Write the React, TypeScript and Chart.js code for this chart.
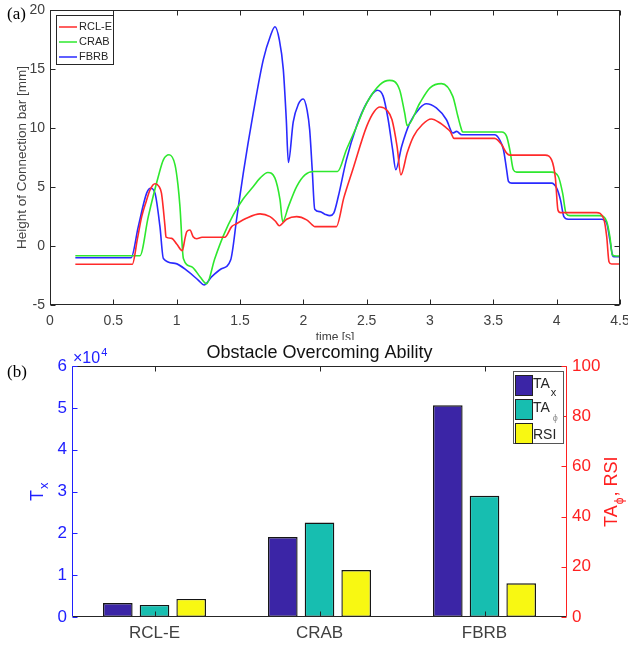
import React, { useEffect, useRef } from 'react';
import { Chart, registerables } from 'chart.js';

Chart.register(...registerables);

const SANS = '"Liberation Sans", Arial, sans-serif';
const SERIF = '"Liberation Serif", "Times New Roman", serif';

// ---------- panel (a): height of connection bar ----------
const seriesNames = ['RCL-E', 'CRAB', 'FBRB'];
const lineColors = ['#ff2a2a', '#2ee82e', '#2a2aff'];

const rclTime = [0.2, 0.65, 0.69, 0.724, 0.76, 0.79, 0.829, 0.86, 0.88, 0.895, 0.908, 0.916, 0.96, 1.0, 1.045, 1.065, 1.08, 1.105, 1.13, 1.158, 1.2, 1.38, 1.434, 1.47, 1.55, 1.658, 1.737, 1.78, 1.81, 1.868, 1.947, 2.026, 2.07, 2.09, 2.26, 2.32, 2.39, 2.5, 2.56, 2.605, 2.66, 2.7, 2.74, 2.77, 2.82, 2.87, 2.94, 3.01, 3.08, 3.13, 3.16, 3.19, 3.51, 3.566, 3.605, 3.63, 3.91, 3.96, 3.99, 4.01, 4.03, 4.316, 4.37, 4.395, 4.413, 4.434, 4.5];
const rclHeight = [-1.55, -1.55, 0.6, 2.49, 3.8, 4.76, 5.27, 5.05, 4.48, 3.1, 1.64, 0.75, 0.65, 0.17, -0.4, 0.6, 1.22, 1.36, 0.79, 0.62, 0.74, 0.74, 1.64, 1.87, 2.35, 2.72, 2.49, 2.1, 1.72, 2.27, 2.49, 2.21, 1.8, 1.64, 1.64, 4.1, 6.46, 10.14, 11.4, 11.78, 11.5, 10.7, 8.44, 6.03, 7.9, 9.29, 10.3, 10.76, 10.42, 10.0, 9.71, 9.12, 9.12, 8.58, 7.87, 7.7, 7.7, 7.3, 5.75, 3.06, 2.83, 2.83, 2.35, 0.79, -1.33, -1.53, -1.53];

const crabTime = [0.2, 0.71, 0.776, 0.855, 0.895, 0.94, 0.987, 1.01, 1.026, 1.053, 1.118, 1.184, 1.237, 1.3, 1.37, 1.45, 1.526, 1.605, 1.658, 1.72, 1.776, 1.816, 1.837, 1.882, 1.947, 2.013, 2.08, 2.27, 2.34, 2.41, 2.5, 2.605, 2.68, 2.76, 2.8, 2.82, 2.92, 3.0, 3.09, 3.18, 3.22, 3.245, 3.258, 3.566, 3.605, 3.63, 3.658, 3.684, 3.96, 4.013, 4.047, 4.074, 4.105, 4.342, 4.395, 4.42, 4.44, 4.47, 4.5];
const crabHeight = [-0.82, -0.82, 2.49, 5.89, 7.3, 7.73, 6.88, 5.2, 3.34, -1.05, -1.76, -2.6, -3.2, -1.1, 0.9, 2.7, 4.0, 5.04, 5.75, 6.23, 5.75, 3.91, 2.07, 3.34, 5.04, 6.03, 6.31, 6.31, 8.16, 9.86, 12.1, 13.68, 14.04, 13.25, 11.27, 10.2, 12.12, 13.4, 13.76, 12.68, 10.99, 10.0, 9.66, 9.66, 9.29, 8.16, 6.46, 6.26, 6.26, 5.89, 4.48, 2.77, 2.57, 2.57, 2.07, 0.79, -0.76, -0.85, -0.85];

const fbrbTime = [0.2, 0.64, 0.697, 0.763, 0.795, 0.829, 0.868, 0.895, 0.987, 1.092, 1.17, 1.216, 1.277, 1.35, 1.426, 1.476, 1.526, 1.605, 1.684, 1.74, 1.776, 1.81, 1.842, 1.865, 1.882, 1.92, 1.96, 2.0, 2.03, 2.05, 2.07, 2.09, 2.13, 2.17, 2.21, 2.24, 2.276, 2.34, 2.42, 2.5, 2.584, 2.63, 2.67, 2.705, 2.73, 2.776, 2.84, 2.92, 2.97, 3.05, 3.13, 3.18, 3.21, 3.25, 3.51, 3.55, 3.58, 3.605, 3.62, 3.645, 3.96, 4.0, 4.03, 4.057, 4.09, 4.355, 4.395, 4.42, 4.44, 4.45, 4.5];
const fbrbHeight = [-1.0, -1.0, 1.64, 4.48, 4.9, 4.48, 1.64, -1.05, -1.47, -2.18, -2.89, -3.3, -2.6, -1.95, -1.19, 2.5, 6.18, 11.3, 15.8, 17.8, 18.58, 17.5, 14.95, 10.8, 7.08, 10.5, 12.0, 12.46, 11.5, 9.86, 6.5, 3.12, 2.91, 2.7, 2.57, 2.78, 4.19, 7.3, 10.14, 12.12, 13.2, 12.7, 10.7, 8.16, 6.46, 8.44, 10.42, 11.7, 12.06, 11.7, 10.7, 9.57, 9.71, 9.43, 9.43, 9.0, 8.16, 6.46, 5.46, 5.33, 5.33, 4.9, 3.91, 2.49, 2.27, 2.27, 1.93, 0.51, -0.76, -0.91, -0.91];

// ---------- panel (b): obstacle overcoming ability ----------
const categories = ['RCL-E', 'CRAB', 'FBRB'];
const taX = [3350, 19100, 50600];
const taPhi = [4.8, 37.6, 48.3];
const rsi = [7.2, 18.7, 13.4];
const barColors = ['#3b25a6', '#17beb0', '#f8f812'];

const toPts = (xs: number[], ys: number[]) => xs.map((x, i) => ({ x, y: ys[i] }));

const AX = '#262626';
const TXT = '#404040';

function line(ctx: CanvasRenderingContext2D, x1: number, y1: number, x2: number, y2: number) {
  ctx.beginPath();
  ctx.moveTo(x1, y1);
  ctx.lineTo(x2, y2);
  ctx.stroke();
}

const topDecor = {
  id: 'topDecor',
  afterDraw(chart: any) {
    const { ctx, chartArea: a, scales } = chart;
    const x = scales.x, y = scales.y;
    ctx.save();
    ctx.strokeStyle = AX;
    ctx.lineWidth = 1;
    const L = Math.round(a.left) + 0.5, R = Math.round(a.right) - 0.5;
    const T = Math.round(a.top) + 0.5, B = Math.round(a.bottom) - 0.5;
    ctx.strokeRect(L, T, R - L, B - T);
    x.ticks.forEach((t: any) => {
      const px = Math.round(x.getPixelForValue(t.value)) + 0.5;
      line(ctx, px, B, px, B - 5);
      line(ctx, px, T, px, T + 5);
    });
    y.ticks.forEach((t: any) => {
      const py = Math.round(y.getPixelForValue(t.value)) + 0.5;
      line(ctx, L, py, L + 5, py);
      line(ctx, R, py, R - 5, py);
    });
    // legend
    ctx.fillStyle = '#fff';
    ctx.fillRect(56.5, 15.5, 57, 49);
    ctx.strokeStyle = AX;
    ctx.strokeRect(56.5, 15.5, 57, 49);
    const rows = [27, 42, 57];
    ctx.font = `11px ${SANS}`;
    ctx.textBaseline = 'middle';
    ctx.textAlign = 'left';
    chart.data.datasets.forEach((ds: any, i: number) => {
      ctx.strokeStyle = ds.borderColor;
      ctx.lineWidth = 1.5;
      line(ctx, 59, rows[i], 77, rows[i]);
      ctx.fillStyle = AX;
      ctx.fillText(ds.label, 79, rows[i]);
    });
    // panel label
    ctx.fillStyle = '#000';
    ctx.font = `17px ${SERIF}`;
    ctx.textBaseline = 'alphabetic';
    ctx.fillText('(a)', 7, 19);
    ctx.restore();
  },
};

const botDecor = {
  id: 'botDecor',
  afterDraw(chart: any) {
    const { ctx, chartArea: a, scales } = chart;
    const x = scales.x, y = scales.y, y1 = scales.y1;
    ctx.save();
    ctx.lineWidth = 1;
    const L = Math.round(a.left) + 0.5, R = Math.round(a.right) - 0.5;
    const T = Math.round(a.top) + 0.5, B = Math.round(a.bottom) - 0.5;
    ctx.strokeStyle = AX;
    line(ctx, L, T, R, T);
    line(ctx, L, B, R, B);
    x.ticks.forEach((t: any, i: number) => {
      const px = Math.round(x.getPixelForValue(i)) + 0.5;
      line(ctx, px, B, px, B - 5);
      line(ctx, px, T, px, T + 5);
    });
    ctx.strokeStyle = '#2020ff';
    line(ctx, L, T, L, B);
    y.ticks.forEach((t: any) => {
      const py = Math.round(y.getPixelForValue(t.value)) + 0.5;
      line(ctx, L, py, L + 5, py);
    });
    ctx.strokeStyle = '#ff2020';
    line(ctx, R, T, R, B);
    y1.ticks.forEach((t: any) => {
      const py = Math.round(y1.getPixelForValue(t.value)) + 0.5;
      line(ctx, R, py, R - 5, py);
    });

    // title
    ctx.fillStyle = '#111';
    ctx.font = `18px ${SANS}`;
    ctx.textAlign = 'center';
    ctx.textBaseline = 'middle';
    ctx.fillText('Obstacle Overcoming Ability', (a.left + a.right) / 2, 13);

    // exponent label
    ctx.textAlign = 'left';
    ctx.textBaseline = 'alphabetic';
    ctx.fillStyle = '#2020ff';
    ctx.font = `16px ${SANS}`;
    ctx.fillText('\u00d710', 73, 23);
    const w10 = ctx.measureText('\u00d710').width;
    ctx.font = `11px ${SANS}`;
    ctx.fillText('4', 73 + w10 + 1, 16);

    // left axis title: T_x (rotated)
    ctx.save();
    ctx.translate(43, 161);
    ctx.rotate(-Math.PI / 2);
    ctx.font = `18px ${SANS}`;
    ctx.fillText('T', 0, 0);
    const wT = ctx.measureText('T').width;
    ctx.font = `13px ${SANS}`;
    ctx.fillText('x', wT + 1, 5);
    ctx.restore();

    // right axis title: TA_phi, RSI (rotated)
    ctx.save();
    ctx.fillStyle = '#ff2020';
    ctx.translate(617, 187);
    ctx.rotate(-Math.PI / 2);
    ctx.font = `18px ${SANS}`;
    ctx.fillText('TA', 0, 0);
    const wTA = ctx.measureText('TA').width;
    ctx.font = `12px ${SANS}`;
    ctx.fillText('\u03d5', wTA + 1, 6);
    const wPhi = ctx.measureText('\u03d5').width;
    ctx.font = `18px ${SANS}`;
    ctx.fillText(', RSI', wTA + wPhi + 2, 0);
    ctx.restore();

    // legend
    const bx = 513.5, by = 31.5, bw = 50, bh = 72;
    ctx.fillStyle = '#fff';
    ctx.fillRect(bx, by, bw, bh);
    ctx.strokeStyle = '#555';
    ctx.strokeRect(bx, by, bw, bh);
    const sw = [35, 59, 83];
    const ds = chart.data.datasets;
    for (let i = 0; i < 3; i++) {
      ctx.fillStyle = ds[i].backgroundColor;
      ctx.fillRect(515.5, sw[i] + 0.5, 17, 20);
      ctx.strokeStyle = '#222';
      ctx.strokeRect(515.5, sw[i] + 0.5, 17, 20);
    }
    ctx.fillStyle = AX;
    ctx.font = `14px ${SANS}`;
    ctx.fillText('TA', 533, 48);
    const wta = ctx.measureText('TA').width;
    ctx.font = `11px ${SANS}`;
    ctx.fillText('x', 533 + wta + 1, 56);
    ctx.font = `14px ${SANS}`;
    ctx.fillText('TA', 533, 72);
    ctx.fillStyle = '#888';
    ctx.font = `9px ${SANS}`;
    ctx.fillText('\u03d5', 533 + wta + 3, 81);
    ctx.fillStyle = AX;
    ctx.font = `14px ${SANS}`;
    ctx.fillText('RSI', 533, 99);

    // panel label
    ctx.fillStyle = '#000';
    ctx.font = `17px ${SERIF}`;
    ctx.fillText('(b)', 7, 37);
    ctx.restore();
  },
};

export default function App() {
  const topRef = useRef<HTMLCanvasElement>(null);
  const botRef = useRef<HTMLCanvasElement>(null);

  useEffect(() => {
    const seriesX = [rclTime, crabTime, fbrbTime];
    const seriesY = [rclHeight, crabHeight, fbrbHeight];
    const c1 = new Chart(topRef.current as HTMLCanvasElement, {
      type: 'line',
      data: {
        datasets: seriesNames.map((name, i) => ({
          label: name,
          data: toPts(seriesX[i], seriesY[i]),
          borderColor: lineColors[i],
          backgroundColor: lineColors[i],
          borderWidth: 1.6,
          pointRadius: 0,
          fill: false,
          cubicInterpolationMode: 'monotone' as const,
        })),
      },
      options: {
        responsive: false,
        animation: false,
        layout: { padding: { left: 0, right: 8, top: 10, bottom: 0 } },
        plugins: { legend: { display: false }, tooltip: { enabled: false } },
        scales: {
          x: {
            type: 'linear',
            min: 0,
            max: 4.5,
            ticks: { stepSize: 0.5, font: { family: SANS, size: 14 }, color: TXT, padding: 8, maxRotation: 0, autoSkip: false, callback: (v: any) => String(Number(v)) },
            grid: { display: false, drawTicks: false },
            border: { display: false },
            title: { display: true, text: 'time [s]', font: { family: SANS, size: 12 }, color: TXT, padding: { top: 0, bottom: 5 } },
            afterFit: (s: any) => { s.height = 45; s.paddingLeft = 0; s.paddingRight = 0; },
          },
          y: {
            min: -5,
            max: 20,
            ticks: { stepSize: 5, font: { family: SANS, size: 14 }, color: TXT, padding: 5 },
            grid: { display: false, drawTicks: false },
            border: { display: false },
            title: { display: true, text: 'Height of Connection bar [mm]', font: { family: SANS, size: 13.5 }, color: TXT, padding: { top: 14, bottom: 0 } },
            afterFit: (s: any) => { s.width = 50; s.paddingTop = 0; s.paddingBottom = 0; },
          },
        },
      } as any,
      plugins: [topDecor],
    });

    const c2 = new Chart(botRef.current as HTMLCanvasElement, {
      type: 'bar',
      data: {
        labels: categories,
        datasets: [
          { label: 'TAx', data: taX, yAxisID: 'y', backgroundColor: barColors[0], borderColor: '#151515', borderWidth: 1.4, borderSkipped: false },
          { label: 'TAphi', data: taPhi, yAxisID: 'y1', backgroundColor: barColors[1], borderColor: '#151515', borderWidth: 1.4, borderSkipped: false },
          { label: 'RSI', data: rsi, yAxisID: 'y1', backgroundColor: barColors[2], borderColor: '#151515', borderWidth: 1.4, borderSkipped: false },
        ],
      },
      options: {
        responsive: false,
        animation: false,
        layout: { padding: { left: 0, right: 0, top: 26, bottom: 0 } },
        datasets: { bar: { categoryPercentage: 0.667, barPercentage: 0.807 } },
        plugins: { legend: { display: false }, tooltip: { enabled: false } },
        scales: {
          x: {
            ticks: { font: { family: SANS, size: 17 }, color: TXT, padding: 6, maxRotation: 0 },
            grid: { display: false, drawTicks: false },
            border: { display: false },
            afterFit: (s: any) => { s.height = 28; s.paddingLeft = 0; s.paddingRight = 0; },
          },
          y: {
            position: 'left',
            min: 0,
            max: 60000,
            ticks: { stepSize: 10000, font: { family: SANS, size: 17 }, color: '#2020ff', padding: 5, callback: (v: any) => String(Number(v) / 10000) },
            grid: { display: false, drawTicks: false },
            border: { display: false },
            afterFit: (s: any) => { s.width = 72; s.paddingTop = 0; s.paddingBottom = 0; },
          },
          y1: {
            position: 'right',
            min: 0,
            max: 100,
            ticks: { stepSize: 20, font: { family: SANS, size: 17 }, color: '#ff2020', padding: 5 },
            grid: { display: false, drawTicks: false },
            border: { display: false },
            afterFit: (s: any) => { s.width = 61; s.paddingTop = 0; s.paddingBottom = 0; },
          },
        },
      } as any,
      plugins: [botDecor],
    });

    return () => {
      c1.destroy();
      c2.destroy();
    };
  }, []);

  return (
    <div style={{ position: 'fixed', left: 0, top: 0, width: 628, height: 645, background: '#fff', overflow: 'hidden' }}>
      <canvas ref={topRef} width={628} height={350} style={{ position: 'absolute', left: 0, top: 0, width: 628, height: 350 }} />
      <canvas ref={botRef} width={628} height={305} style={{ position: 'absolute', left: 0, top: 340, width: 628, height: 305, background: '#fff' }} />
    </div>
  );
}
